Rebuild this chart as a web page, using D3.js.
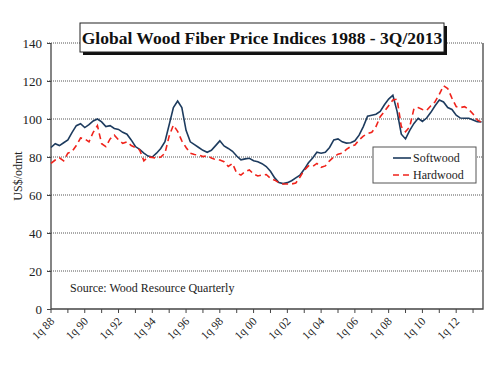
<!DOCTYPE html>
<meta charset="utf-8">
<title>Global Wood Fiber Price Indices</title>
<body>
<script src="https://cdn.jsdelivr.net/npm/d3@7"></script>
<style>
html, body {
    margin: 0;
    background: #fff;
}
svg {
    display: block;
    font-family: "Liberation Serif", "Times New Roman", serif;
}
</style>
<script>
// quarterly indices, 1Q1988 .. 3Q2013 (US$/odmt)
var softwood = [
    85, 87, 86, 87.5, 89, 93, 96.5, 97.5, 95.5, 97, 99, 100, 98.5, 96, 96.5, 95,
    94.5, 93, 92, 89, 85.5, 84, 82, 80.5, 80, 82, 84.5, 88, 97, 106, 109.5, 106,
    94, 88, 86.5, 85, 83.5, 82.5, 83.5, 86, 88.5, 85.8, 84.5, 83, 80.5, 78.5, 79, 79.3,
    78, 77.5, 76.5, 75, 72.5, 69, 66.5, 66, 66.5, 67.5, 69, 70.5, 73.5, 77, 79.5, 82.5,
    82, 82.5, 85, 89, 89.5, 88, 87.3, 87.5, 88.5, 91.5, 96, 101.5, 102, 102.5, 104, 107.5,
    110.5, 112.5, 104, 92, 89.5, 94, 97.7, 100.4, 98.7, 100.5, 103.5, 107, 110, 109, 106, 105,
    102, 100.5, 100.4, 100.4, 99.5, 98.6, 98.5
];
var hardwood = [
    76.7, 78.4, 79.6, 78, 82, 83, 86, 90, 89.5, 88, 93, 96.5, 87, 85.5, 89.5, 91.5,
    89, 87.2, 88, 86, 85, 83.7, 78, 80, 79.8, 79.3, 80, 82, 91, 96.8, 93.5, 88.5,
    85, 82, 81.3, 81, 80.2, 80.7, 79.5, 78.6, 78.4, 77.5, 75, 76.6, 71.5, 70.5, 72.3, 73.2,
    71, 70, 70.5, 70.8, 68.8, 67.8, 66.5, 65.8, 65.8, 65.8, 66.3, 69.5, 73, 75.3, 75, 76.6,
    74.6, 75.3, 78, 80, 81.5, 82, 84, 85.5, 86.3, 89, 91, 92.3, 93, 96, 101.2, 104,
    107, 110, 110.5, 96, 93.3, 96, 105.5, 106, 105, 104.5, 107, 109.1, 113, 117.5, 116, 111,
    106.5, 106, 106.5, 105, 102.6, 99.5, 98.3
];
var yTicks = [0, 20, 40, 60, 80, 100, 120, 140];
var xLabels = ["1q 88", "1q 90", "1q 92", "1q 94", "1q 96", "1q 98", "1q 00",
               "1q 02", "1q 04", "1q 06", "1q 08", "1q 10", "1q 12"];
var seriesNames = ["Softwood", "Hardwood"];

var width = 500,
    height = 374,
    plotL = 51, plotR = 483, plotT = 43, plotB = 309;

var svg = d3.select("body").append("svg")
    .attr("width", width)
    .attr("height", height);

var x = d3.scaleLinear().domain([0, softwood.length - 1]).range([plotL, plotR - 1.5]);
var y = d3.scaleLinear().domain([0, 140]).range([plotB, plotT]);

// gridlines
svg.append("g")
    .selectAll("line")
    .data(yTicks.slice(1))
    .join("line")
    .attr("x1", plotL - 4)
    .attr("x2", plotR)
    .attr("y1", function(d) { return y(d); })
    .attr("y2", function(d) { return y(d); })
    .attr("stroke", "#555")
    .attr("stroke-width", 1)
    .attr("stroke-dasharray", "1,1");

// y axis
var yAxis = svg.append("g")
    .attr("transform", "translate(" + plotL + ",0)")
    .call(d3.axisLeft(y).tickValues(yTicks).tickSize(4).tickPadding(5));
yAxis.select(".domain").remove();
yAxis.selectAll(".tick line").attr("stroke", "#444");
yAxis.selectAll("text")
    .attr("font-family", "Liberation Serif, serif")
    .attr("font-size", 13)
    .attr("fill", "#222");

// frame: left, bottom, right
svg.append("path")
    .attr("d", "M" + plotL + "," + plotT + "V" + plotB + "H" + plotR + "V" + plotT)
    .attr("fill", "none")
    .attr("stroke", "#444")
    .attr("stroke-width", 1.3);

// x ticks every year, labels every two years
var yearTicks = d3.range(0, softwood.length, 4);
svg.append("g")
    .selectAll("line")
    .data(yearTicks)
    .join("line")
    .attr("x1", function(d) { return x(d); })
    .attr("x2", function(d) { return x(d); })
    .attr("y1", plotB)
    .attr("y2", plotB + 4)
    .attr("stroke", "#444");

svg.append("g")
    .selectAll("text")
    .data(xLabels)
    .join("text")
    .attr("transform", function(d, i) {
        return "translate(" + (x(i * 8) + 4) + "," + (plotB + 13) + ") rotate(-45)";
    })
    .attr("text-anchor", "end")
    .attr("font-size", 11.5)
    .attr("fill", "#222")
    .text(function(d) { return d; });

// y title
svg.append("text")
    .attr("transform", "translate(22," + ((plotT + plotB) / 2) + ") rotate(-90)")
    .attr("text-anchor", "middle")
    .attr("font-size", 12)
    .attr("fill", "#222")
    .text("US$/odmt");

// lines
var line = d3.line()
    .x(function(d, i) { return x(i); })
    .y(function(d) { return y(d); });

svg.append("path")
    .datum(softwood)
    .attr("d", line)
    .attr("fill", "none")
    .attr("stroke", "#1d3b5e")
    .attr("stroke-width", 1.6);

svg.append("path")
    .datum(hardwood)
    .attr("d", line)
    .attr("fill", "none")
    .attr("stroke", "#f0231b")
    .attr("stroke-width", 1.6)
    .attr("stroke-dasharray", "6,4");

// source
svg.append("text")
    .attr("x", 70)
    .attr("y", 292)
    .attr("font-size", 12)
    .attr("fill", "#222")
    .text("Source: Wood Resource Quarterly");

// legend
var lg = svg.append("g").attr("transform", "translate(373,147)");
lg.append("rect")
    .attr("width", 103)
    .attr("height", 36)
    .attr("fill", "#fff")
    .attr("stroke", "#555");
lg.selectAll("line")
    .data(seriesNames)
    .join("line")
    .attr("x1", 20).attr("x2", 38)
    .attr("y1", function(d, i) { return 11 + i * 17; })
    .attr("y2", function(d, i) { return 11 + i * 17; })
    .attr("stroke", function(d, i) { return i ? "#f0231b" : "#1d3b5e"; })
    .attr("stroke-width", 1.6)
    .attr("stroke-dasharray", function(d, i) { return i ? "6,4" : null; });
lg.selectAll("text")
    .data(seriesNames)
    .join("text")
    .attr("x", 40)
    .attr("y", function(d, i) { return 15 + i * 17; })
    .attr("font-size", 12)
    .attr("fill", "#222")
    .text(function(d) { return d; });

// title box with shadow
var tg = svg.append("g").attr("transform", "translate(80,23)");
tg.append("rect")
    .attr("x", 3).attr("y", 3)
    .attr("width", 364).attr("height", 29)
    .attr("fill", "#111");
tg.append("rect")
    .attr("width", 364).attr("height", 29)
    .attr("fill", "#fff")
    .attr("stroke", "#222");
tg.append("text")
    .attr("x", 182)
    .attr("y", 21)
    .attr("text-anchor", "middle")
    .attr("font-size", 17.5)
    .attr("font-weight", "bold")
    .attr("fill", "#111")
    .text("Global Wood Fiber Price Indices 1988 - 3Q/2013");
</script>
